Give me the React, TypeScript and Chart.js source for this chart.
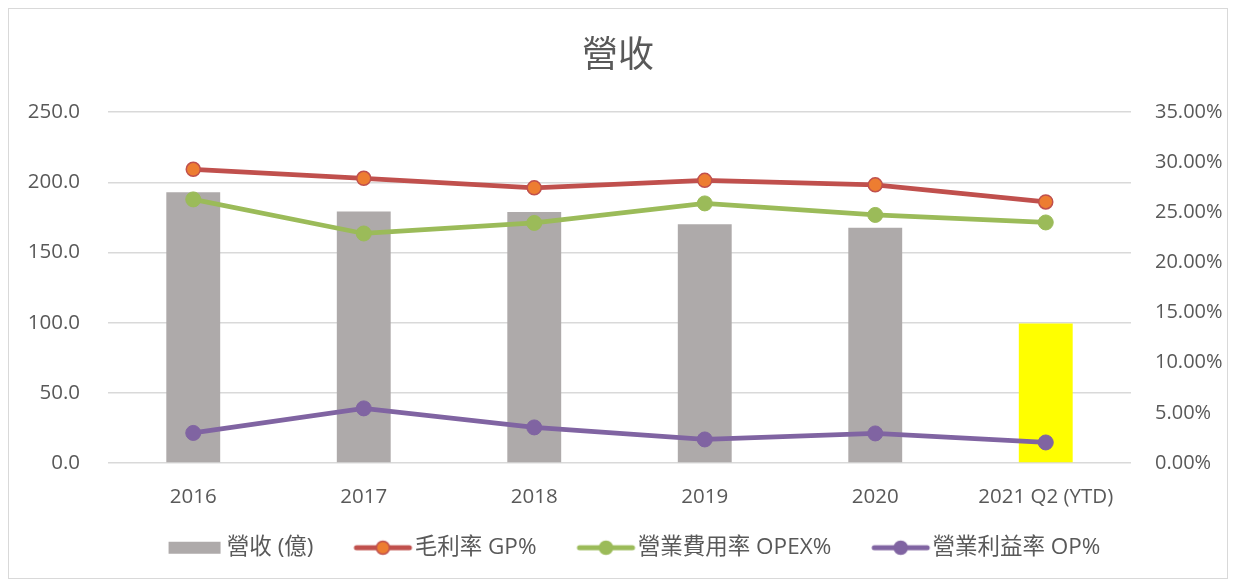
import React, { useEffect, useRef } from "react";
import { Chart, registerables } from "chart.js";

Chart.register(...registerables);

const categories = ["2016", "2017", "2018", "2019", "2020", "2021 Q2 (YTD)"];
const revenue = [193.0, 179.3, 178.8, 170.2, 167.6, 99.4];
const grossMargin = [29.3, 28.4, 27.45, 28.2, 27.75, 26.05];
const opexRatio = [26.3, 22.9, 23.95, 25.9, 24.75, 24.0];
const opMargin = [3.0, 5.45, 3.55, 2.35, 2.95, 2.05];
const leftTicks = { min: 0, max: 250, step: 50 };
const rightTicks = { min: 0, max: 35, step: 5 };

const FONT = '"Open Sans", "Noto Sans CJK TC", sans-serif';
const TEXT = "#595959";

function makeLegendImage(kind: "bar" | "line", color: string, fill: string, border: string) {
  const c = document.createElement("canvas");
  c.width = 100;
  c.height = 20;
  const ctx = c.getContext("2d")!;
  if (kind === "bar") {
    ctx.fillStyle = color;
    ctx.fillRect(43, 4, 52, 12);
  } else {
    ctx.strokeStyle = color;
    ctx.lineWidth = 5;
    ctx.lineCap = "round";
    ctx.beginPath();
    ctx.moveTo(43, 10);
    ctx.lineTo(96, 10);
    ctx.stroke();
    ctx.beginPath();
    ctx.arc(69.5, 10, 6.5, 0, Math.PI * 2);
    ctx.fillStyle = fill;
    ctx.fill();
    ctx.lineWidth = 1.5;
    ctx.strokeStyle = border;
    ctx.stroke();
  }
  return c;
}

export default function App() {
  const ref = useRef<HTMLCanvasElement | null>(null);

  useEffect(() => {
    if (!ref.current) return;
    const images = [
      makeLegendImage("bar", "#AEAAAA", "#AEAAAA", "#AEAAAA"),
      makeLegendImage("line", "#C0504D", "#ED7D31", "#C0504D"),
      makeLegendImage("line", "#9BBB59", "#9BBB59", "#9BBB59"),
      makeLegendImage("line", "#8064A2", "#8064A2", "#8064A2"),
    ];
    const chart = new Chart(ref.current, {
      type: "bar",
      data: {
        labels: categories,
        datasets: [
          {
            type: "bar",
            label: "營收 (億)",
            data: revenue,
            backgroundColor: revenue.map((_, i) => (i === revenue.length - 1 ? "#FFFF00" : "#AEAAAA")),
            yAxisID: "y",
            order: 10,
            categoryPercentage: 1,
            barPercentage: 0.316,
          },
          {
            type: "line",
            label: "毛利率 GP%",
            data: grossMargin,
            borderColor: "#C0504D",
            backgroundColor: "#ED7D31",
            pointBackgroundColor: "#ED7D31",
            pointBorderColor: "#C0504D",
            pointBorderWidth: 1.5,
            pointRadius: 7,
            borderWidth: 4.75,
            yAxisID: "y1",
            order: 1,
          },
          {
            type: "line",
            label: "營業費用率 OPEX%",
            data: opexRatio,
            borderColor: "#9BBB59",
            backgroundColor: "#9BBB59",
            pointBackgroundColor: "#9BBB59",
            pointBorderColor: "#9BBB59",
            pointBorderWidth: 1,
            pointRadius: 7.5,
            borderWidth: 4.75,
            yAxisID: "y1",
            order: 2,
          },
          {
            type: "line",
            label: "營業利益率 OP%",
            data: opMargin,
            borderColor: "#8064A2",
            backgroundColor: "#8064A2",
            pointBackgroundColor: "#8064A2",
            pointBorderColor: "#8064A2",
            pointBorderWidth: 1,
            pointRadius: 7.5,
            borderWidth: 4.75,
            yAxisID: "y1",
            order: 3,
          },
        ],
      },
      options: {
        animation: false,
        responsive: false,
        maintainAspectRatio: false,
        layout: { padding: 0 },
        plugins: {
          title: {
            display: true,
            text: "營收",
            color: TEXT,
            font: { family: FONT, size: 36, weight: "normal" },
            padding: { top: 26, bottom: 34 },
          },
          legend: {
            position: "bottom",
            labels: {
              usePointStyle: true,
              pointStyleWidth: 80,
              boxHeight: 16,
              padding: 10,
              color: TEXT,
              font: { family: FONT, size: 22.5 },
              sort: (a: any, b: any) => a.datasetIndex - b.datasetIndex,
              generateLabels: (ch: any) => {
                const items = Chart.defaults.plugins.legend.labels.generateLabels(ch);
                return items.map((it: any) => ({ ...it, pointStyle: images[it.datasetIndex] }));
              },
            },
          },
          tooltip: { enabled: false },
        },
        scales: {
          x: {
            grid: { display: false },
            border: { display: false },
            ticks: { color: TEXT, font: { family: FONT, size: 20.5 }, padding: 14, maxRotation: 0 },
            afterFit: (s: any) => {
              s.height = 63.5;
            },
          },
          y: {
            position: "left",
            min: leftTicks.min,
            max: leftTicks.max,
            grid: { color: "#D9D9D9", lineWidth: 1.5, drawTicks: false },
            border: { display: false },
            ticks: {
              stepSize: leftTicks.step,
              color: TEXT,
              font: { family: FONT, size: 20.5 },
              padding: 28,
              callback: (v: any) => Number(v).toFixed(1),
            },
            afterFit: (s: any) => {
              s.width = 99;
            },
          },
          y1: {
            position: "right",
            min: rightTicks.min,
            max: rightTicks.max,
            grid: { display: false, drawTicks: false },
            border: { display: false },
            ticks: {
              stepSize: rightTicks.step,
              color: TEXT,
              font: { family: FONT, size: 20 },
              padding: 24,
              callback: (v: any) => Number(v).toFixed(2) + "%",
            },
            afterFit: (s: any) => {
              s.width = 96;
            },
          },
        },
      },
    });
    return () => chart.destroy();
  }, []);

  return (
    <div
      style={{
        width: 1220,
        height: 571,
        boxSizing: "border-box",
        border: "1px solid #D9D9D9",
        background: "#fff",
      }}
    >
      <canvas ref={ref} width={1218} height={560} style={{ display: "block" }} />
    </div>
  );
}
